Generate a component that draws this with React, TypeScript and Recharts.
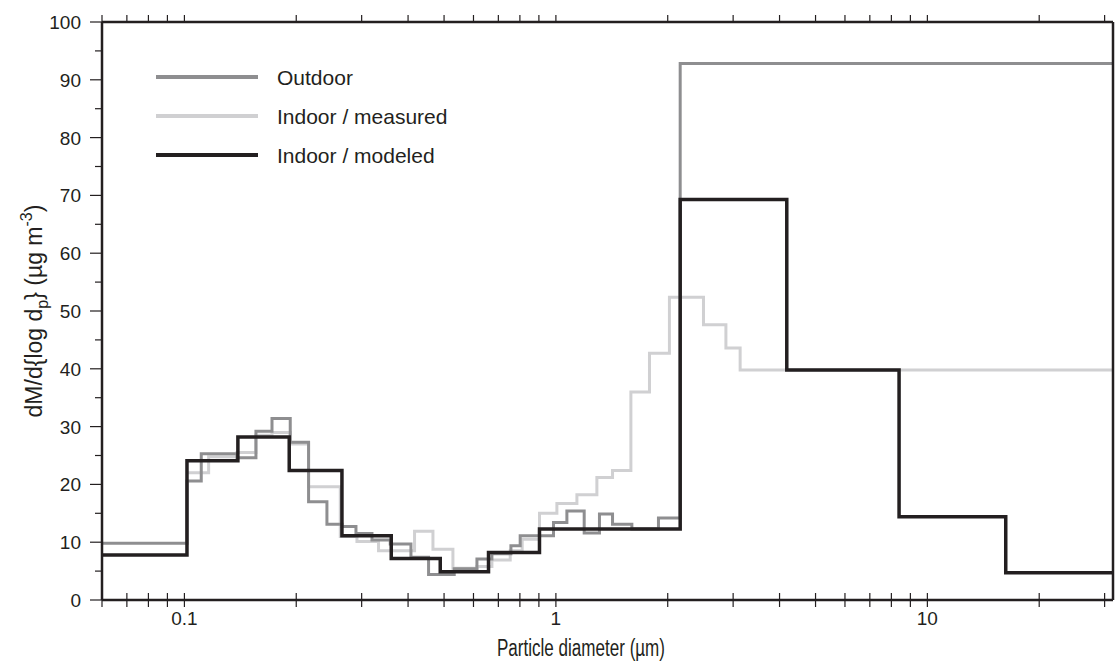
import React from "react";
import { LineChart, Line, XAxis, YAxis, Legend } from "recharts";

// size bins: left edges in µm, the last edge closes the final bin
const outdoorEdges = [0.06, 0.1016, 0.111, 0.1385, 0.1558, 0.1721, 0.1927, 0.2159, 0.2419, 0.2655, 0.2896, 0.3198, 0.3582, 0.4072, 0.4542, 0.5325, 0.613, 0.6726, 0.7567, 0.8014, 0.9852, 1.0705, 1.1917, 1.31, 1.4206, 1.6015, 1.8884, 2.1607, 31.6];
const outdoorValues = [9.8, 20.6, 25.3, 24.6, 29.2, 31.4, 27.3, 17.0, 13.1, 12.7, 11.5, 10.4, 9.7, 7.4, 4.4, 5.4, 7.1, 8.0, 9.4, 11.1, 13.4, 15.4, 11.6, 14.9, 13.1, 12.3, 14.2, 92.8];

const measuredEdges = [0.1016, 0.1162, 0.1385, 0.1558, 0.1721, 0.1927, 0.2159, 0.2628, 0.2914, 0.3331, 0.4164, 0.4667, 0.5282, 0.613, 0.6726, 0.7534, 0.8114, 0.9033, 1.0062, 1.1391, 1.2892, 1.4206, 1.5917, 1.7862, 2.0212, 2.4963, 2.8686, 3.1331, 31.6];
const measuredValues = [22.0, 24.8, 25.5, 28.5, 29.0, 27.0, 19.6, 11.0, 10.1, 8.5, 11.9, 8.8, 5.5, 5.8, 6.9, 8.5, 10.5, 15.0, 16.7, 18.2, 21.2, 22.4, 36.0, 42.7, 52.4, 47.6, 43.6, 39.8];

const modeledEdges = [0.06, 0.1016, 0.1393, 0.1915, 0.2655, 0.3604, 0.4883, 0.6586, 0.9033, 2.1607, 4.1834, 8.3909, 16.254, 31.6];
const modeledValues = [7.8, 24.1, 28.2, 22.4, 11.1, 7.2, 4.9, 8.2, 12.3, 69.3, 39.8, 14.4, 4.7];

const xTicks = [0.06, 0.07, 0.08, 0.09, 0.1, 0.2, 0.3, 0.4, 0.5, 0.6, 0.7, 0.8, 0.9, 1, 2, 3, 4, 5, 6, 7, 8, 9, 10, 20, 30];
const xLabels = [0.1, 1, 10];
const yTicks = [0, 5, 10, 15, 20, 25, 30, 35, 40, 45, 50, 55, 60, 65, 70, 75, 80, 85, 90, 95, 100];

const FONT = "'Liberation Sans', Arial, Helvetica, sans-serif";
const INK = "#231f20";

const SERIES = [
  { name: "Outdoor", color: "#8e8e90", width: 3 },
  { name: "Indoor / measured", color: "#d0d0d2", width: 3 },
  { name: "Indoor / modeled", color: "#231f20", width: 3.5 },
];

function toSteps(edges: number[], values: number[]) {
  return edges.map((d, i) => ({ d, v: values[Math.min(i, values.length - 1)] }));
}

const outdoorData = toSteps(outdoorEdges, outdoorValues);
const measuredData = toSteps(measuredEdges, measuredValues);
const modeledData = toSteps(modeledEdges, modeledValues);

const BottomTick = (props: any) => {
  const { x, y, payload } = props;
  const v = payload.value;
  return (
    <g>
      <line x1={x} x2={x} y1={y - 7} y2={y + 7} stroke={INK} strokeWidth={1.2} />
      {xLabels.includes(v) && (
        <text x={x} y={y + 25} textAnchor="middle" fontSize={19} fontFamily={FONT} fill={INK}>
          {String(v)}
        </text>
      )}
    </g>
  );
};

const TopTick = (props: any) => {
  const { x, y } = props;
  return <line x1={x} x2={x} y1={y} y2={y - 7} stroke={INK} strokeWidth={1.2} />;
};

const LeftTick = (props: any) => {
  const { x, y, payload } = props;
  const major = payload.value % 10 === 0;
  return (
    <g>
      <line x1={x} x2={x - (major ? 12 : 7)} y1={y} y2={y} stroke={INK} strokeWidth={1.2} />
      {major && (
        <text x={x - 21} y={y + 7} textAnchor="end" fontSize={19} fontFamily={FONT} fill={INK}>
          {payload.value}
        </text>
      )}
    </g>
  );
};

const RightTick = (props: any) => {
  const { x, y } = props;
  return <line x1={x} x2={x + 7} y1={y} y2={y} stroke={INK} strokeWidth={1.2} />;
};

const YTitle = () => (
  <text
    transform="translate(42, 311) rotate(-90)"
    textAnchor="middle"
    fontSize={23}
    fontFamily={FONT}
    fill={INK}
  >
    dM/d{"{"}log d<tspan fontSize={16} dy={6}>p</tspan>
    <tspan dy={-6}>{"}"} (µg m</tspan>
    <tspan fontSize={16} dy={-10}>-3</tspan>
    <tspan dy={10}>)</tspan>
  </text>
);

const XTitle = () => (
  <text
    x={581}
    y={656}
    textAnchor="middle"
    fontSize={23}
    fontFamily={FONT}
    fill={INK}
    textLength={168}
    lengthAdjust="spacingAndGlyphs"
  >
    Particle diameter (µm)
  </text>
);

const renderLegend = () => (
  <svg width={320} height={112}>
    {SERIES.map((s, i) => (
      <g key={s.name}>
        <line x1={6} x2={108} y1={13 + i * 39} y2={13 + i * 39} stroke={s.color} strokeWidth={4} />
        <text x={127} y={13 + i * 39 + 7.5} fontSize={21} fontFamily={FONT} fill={INK}>
          {s.name}
        </text>
      </g>
    ))}
  </svg>
);

export default function App() {
  return (
    <div style={{ position: "absolute", left: 0, top: 0, width: 1120, height: 668, background: "#fff" }}>
      <LineChart width={1120} height={668} margin={{ top: 0, right: 0, bottom: 0, left: 0 }}>
        <XAxis
          dataKey="d"
          type="number"
          scale="log"
          domain={[0.06, 31.6]}
          allowDataOverflow
          ticks={xTicks}
          interval={0}
          tick={<BottomTick />}
          tickSize={0}
          tickMargin={0}
          tickLine={false}
          height={68}
          axisLine={{ stroke: INK, strokeWidth: 2.5 }}
          label={<XTitle />}
        />
        <XAxis
          xAxisId="top"
          orientation="top"
          dataKey="d"
          type="number"
          scale="log"
          domain={[0.06, 31.6]}
          allowDataOverflow
          ticks={xTicks}
          interval={0}
          tick={<TopTick />}
          tickSize={0}
          tickMargin={0}
          tickLine={false}
          height={22}
          axisLine={{ stroke: INK, strokeWidth: 2.5 }}
        />
        <YAxis
          type="number"
          domain={[0, 100]}
          ticks={yTicks}
          interval={0}
          tick={<LeftTick />}
          tickSize={0}
          tickMargin={0}
          tickLine={false}
          width={102}
          axisLine={{ stroke: INK, strokeWidth: 2.5 }}
          label={<YTitle />}
        />
        <YAxis
          yAxisId="right"
          orientation="right"
          type="number"
          domain={[0, 100]}
          ticks={yTicks}
          interval={0}
          tick={<RightTick />}
          tickSize={0}
          tickMargin={0}
          tickLine={false}
          width={7}
          axisLine={{ stroke: INK, strokeWidth: 2.5 }}
        />
        <Legend
          layout="vertical"
          align="center"
          verticalAlign="middle"
          content={renderLegend}
          wrapperStyle={{ position: "absolute", left: 150, top: 64, width: 320, height: 112 }}
        />
        <Line
          data={measuredData}
          dataKey="v"
          name="Indoor / measured"
          type="stepAfter"
          stroke={SERIES[1].color}
          strokeWidth={SERIES[1].width}
          dot={false}
          activeDot={false}
          isAnimationActive={false}
        />
        <Line
          data={outdoorData}
          dataKey="v"
          name="Outdoor"
          type="stepAfter"
          stroke={SERIES[0].color}
          strokeWidth={SERIES[0].width}
          dot={false}
          activeDot={false}
          isAnimationActive={false}
        />
        <Line
          data={modeledData}
          dataKey="v"
          name="Indoor / modeled"
          type="stepAfter"
          stroke={SERIES[2].color}
          strokeWidth={SERIES[2].width}
          dot={false}
          activeDot={false}
          isAnimationActive={false}
        />
      </LineChart>
    </div>
  );
}
